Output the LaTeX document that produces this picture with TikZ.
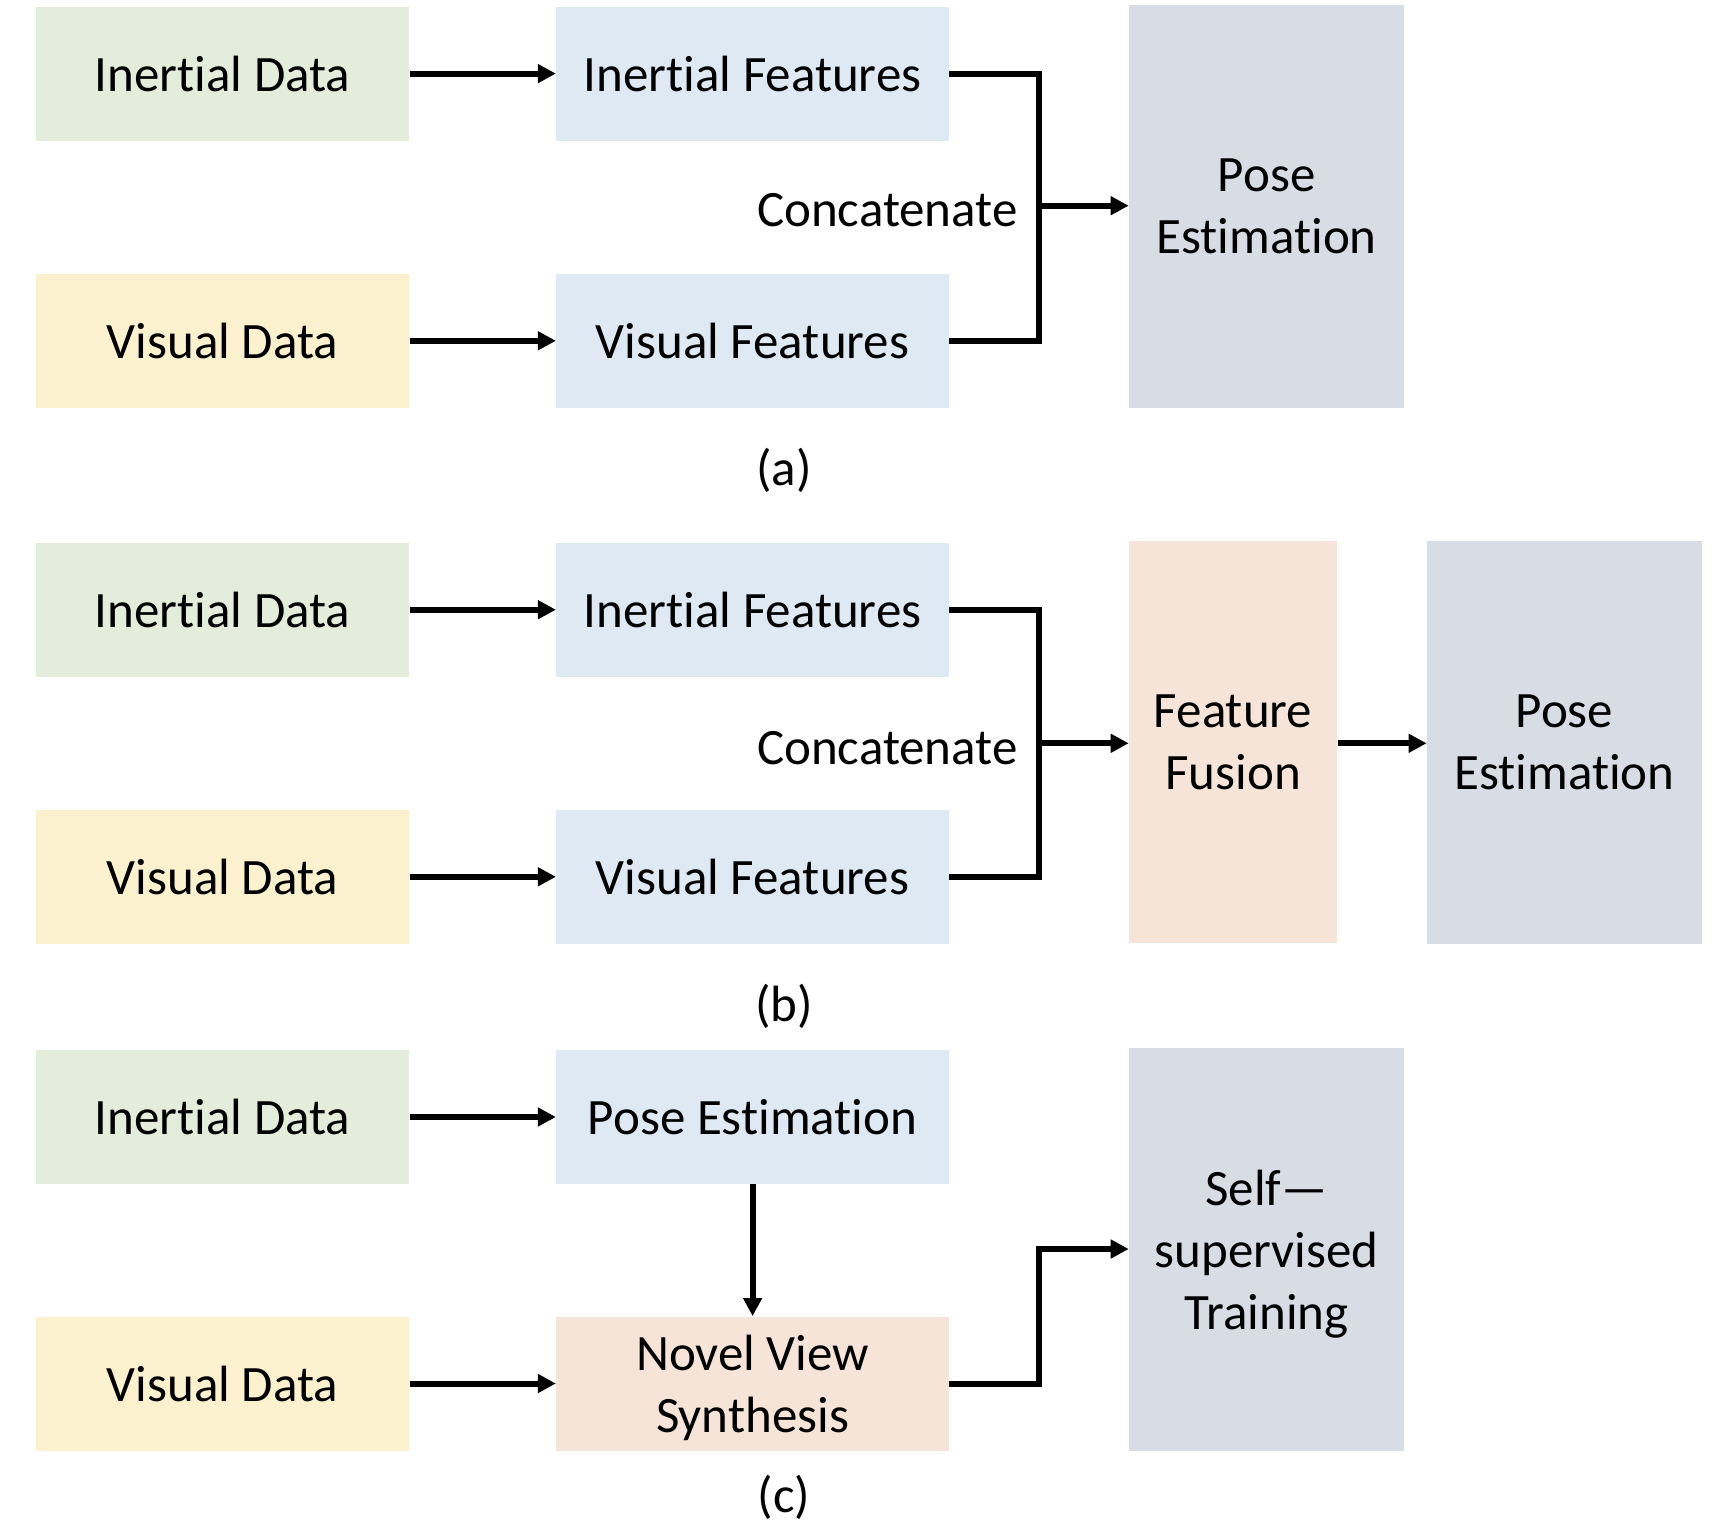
\documentclass[tikz,border=0pt]{standalone}
\usepackage{fontspec}
\setmainfont{Carlito}[Ligatures=NoCommon]
\usetikzlibrary{arrows.meta}
\definecolor{cgreen}{HTML}{E4EDDB}
\definecolor{cyellow}{HTML}{FCF1CF}
\definecolor{cblue}{HTML}{DFE9F4}
\definecolor{cpeach}{HTML}{F6E4D8}
\definecolor{cgray}{HTML}{D7DCE5}
\begin{document}
\begin{tikzpicture}[x=0.5pt,y=-0.5pt,
  box/.style={inner sep=0pt, align=center, font=\fontsize{25.5pt}{31pt}\selectfont},
  inbox/.style={box, minimum width=186.5pt, minimum height=67pt},
  featbox/.style={box, minimum width=196.3pt, minimum height=67pt},
  tallbox/.style={box, minimum width=137.5pt, minimum height=201.5pt},
  fusebox/.style={box, minimum width=104pt, minimum height=201.2pt},
  lbl/.style={inner sep=0pt, font=\fontsize{25.5pt}{31pt}\selectfont},
  conn/.style={line width=3pt, -{Triangle[length=9pt,width=9pt]}},
  link/.style={line width=3pt}]
\useasboundingbox (0,0) rectangle (1724,1530);
% ---------- (a)
\node[inbox, fill=cgreen] (ia) at (222.6,73.6) {Inertial Data};
\node[inbox, fill=cyellow] (va) at (222.6,340.8) {Visual Data};
\node[featbox, fill=cblue] (ifa) at (752.6,73.6) {Inertial Features};
\node[featbox, fill=cblue] (vfa) at (752.6,340.8) {Visual Features};
\node[tallbox, fill=cgray] (pa) at (1266.6,206.2) {Pose\\Estimation};
\coordinate (ja) at (1039,205.7);
\node[lbl, anchor=base east] (cca) at (1018,226.5) {Concatenate};
\node[lbl] (la) at (784,470.5) {(a)};
\draw[conn] (ia) -- (ifa);
\draw[conn] (va) -- (vfa);
\draw[link] (ifa.east) -| (ja) |- (vfa.east);
\draw[conn] (ja) -- (ja -| pa.west);
% ---------- (b)
\node[inbox, fill=cgreen] (ib) at (222.6,609.7) {Inertial Data};
\node[inbox, fill=cyellow] (vb) at (222.6,876.8) {Visual Data};
\node[featbox, fill=cblue] (ifb) at (752.6,609.7) {Inertial Features};
\node[featbox, fill=cblue] (vfb) at (752.6,876.8) {Visual Features};
\node[fusebox, fill=cpeach] (ffb) at (1233.1,742.2) {Feature\\Fusion};
\node[tallbox, fill=cgray] (pb) at (1564.5,742.2) {Pose\\Estimation};
\coordinate (jb) at (1039,743.3);
\node[lbl, anchor=base east] (ccb) at (1018,764) {Concatenate};
\node[lbl] (lb) at (784,1006) {(b)};
\draw[conn] (ib) -- (ifb);
\draw[conn] (vb) -- (vfb);
\draw[link] (ifb.east) -| (jb) |- (vfb.east);
\draw[conn] (jb) -- (jb -| ffb.west);
\draw[conn] (ffb.east |- jb) -- (jb -| pb.west);
% ---------- (c)
\node[inbox, fill=cgreen] (ic) at (222.6,1117) {Inertial Data};
\node[inbox, fill=cyellow] (vc) at (222.6,1383.5) {Visual Data};
\node[featbox, fill=cblue] (pec) at (752.6,1117) {Pose Estimation};
\node[featbox, fill=cpeach, text depth=0pt] (nvs) at (752.6,1383.5) {Novel View\\Synthesis};
\node[tallbox, fill=cgray, text depth=0pt] (sst) at (1266.6,1249.5) {Self—\\supervised\\Training};
\coordinate (jc) at (1039,1249);
\node[lbl] (lc) at (784,1497.5) {(c)};
\draw[conn] (ic) -- (pec);
\draw[conn] (vc) -- (nvs);
\draw[conn] (pec) -- (nvs);
\draw[conn] (nvs.east) -| (jc) -- (jc -| sst.west);
\end{tikzpicture}
\end{document}
